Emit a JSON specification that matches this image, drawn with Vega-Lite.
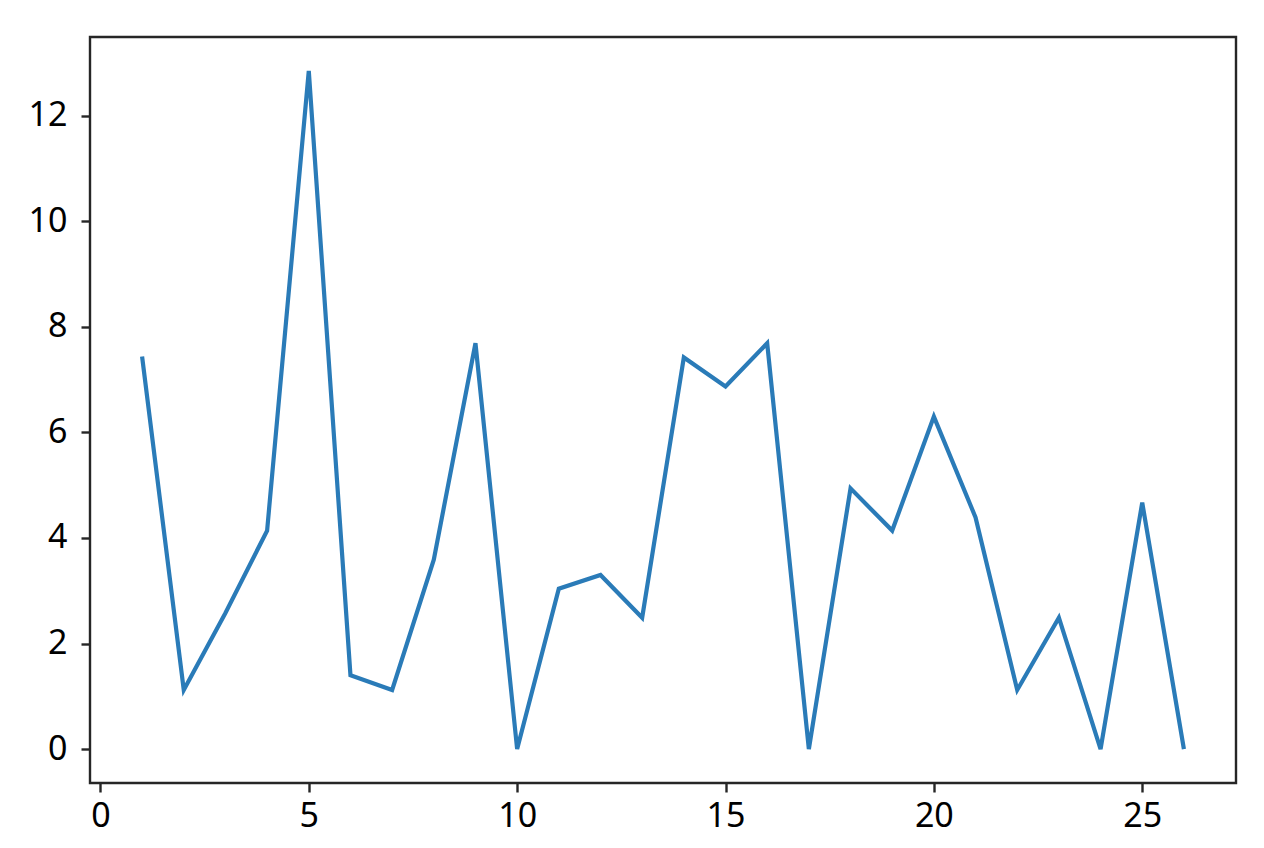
{
  "$schema": "https://vega.github.io/schema/vega-lite/v6.json",
  "width": 1146,
  "height": 746,
  "autosize": {"type": "none"},
  "padding": {"left": 90, "top": 37, "right": 28, "bottom": 65},
  "background": "white",
  "config": {
    "view": {"stroke": "#262626", "strokeWidth": 2.4},
    "axis": {
      "domain": false,
      "grid": false,
      "ticks": true,
      "tickColor": "#262626",
      "tickWidth": 2.4,
      "tickSize": 9,
      "labelFont": "Noto Sans",
      "labelFontSize": 34,
      "labelColor": "#000000",
      "title": null
    }
  },
  "data": {
    "values": [
      {"x": 1, "y": 7.44},
      {"x": 2, "y": 1.12},
      {"x": 3, "y": 2.58},
      {"x": 4, "y": 4.14},
      {"x": 5, "y": 12.85},
      {"x": 6, "y": 1.40},
      {"x": 7, "y": 1.12},
      {"x": 8, "y": 3.59},
      {"x": 9, "y": 7.69},
      {"x": 10, "y": 0},
      {"x": 11, "y": 3.04},
      {"x": 12, "y": 3.30},
      {"x": 13, "y": 2.49},
      {"x": 14, "y": 7.42},
      {"x": 15, "y": 6.87},
      {"x": 16, "y": 7.69},
      {"x": 17, "y": 0},
      {"x": 18, "y": 4.94},
      {"x": 19, "y": 4.14},
      {"x": 20, "y": 6.30},
      {"x": 21, "y": 4.39},
      {"x": 22, "y": 1.12},
      {"x": 23, "y": 2.49},
      {"x": 24, "y": 0},
      {"x": 25, "y": 4.67},
      {"x": 26, "y": 0}
    ]
  },
  "mark": {"type": "line", "color": "#2a7bb8", "strokeWidth": 4.2, "clip": true},
  "encoding": {
    "x": {
      "field": "x",
      "type": "quantitative",
      "scale": {"domain": [-0.25, 27.25], "nice": false, "zero": false},
      "axis": {"values": [0, 5, 10, 15, 20, 25], "labelPadding": 7, "labelFlush": false}
    },
    "y": {
      "field": "y",
      "type": "quantitative",
      "scale": {"domain": [-0.6425, 13.4925], "nice": false, "zero": false},
      "axis": {"values": [0, 2, 4, 6, 8, 10, 12], "labelPadding": 14, "labelFlush": false}
    }
  }
}
